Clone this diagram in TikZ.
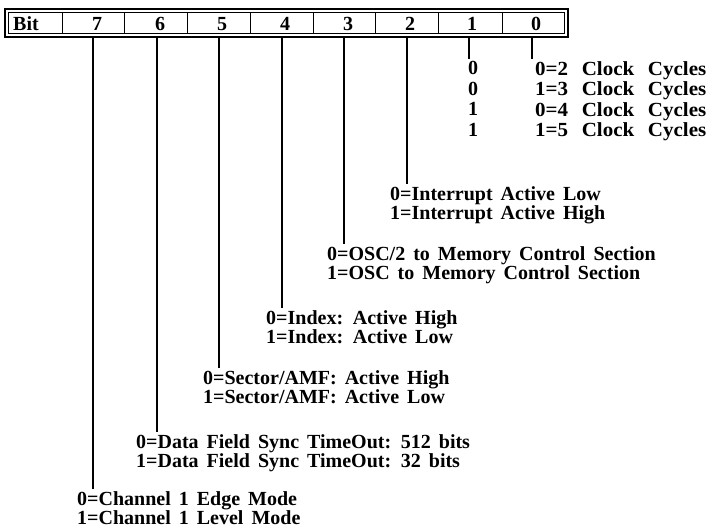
\documentclass[tikz,border=0pt]{standalone}
\usepackage{fontspec}
\setmainfont{Liberation Serif}[WordSpace=1.6]
\newfontfamily\clockfont{Liberation Serif}[WordSpace=2.6,FakeStretch=1.05]
\begin{document}
\lineskiplimit=-30pt
\begin{tikzpicture}[x=1pt,y=-1pt,
  lab/.style={anchor=north west,inner sep=0pt,align=left,font=\fontsize{20}{19.5}\selectfont\bfseries},
  hd/.style={anchor=base,inner sep=0pt,font=\fontsize{20}{18}\selectfont\bfseries},
  lead/.style={line width=1.6pt}]
\useasboundingbox (0,0) rectangle (708,530);
% header box
\draw[line width=1.8pt] (5,9) rectangle (568,37);
\draw[line width=0.8pt] (8.5,12.5) rectangle (564.5,33.5);
\foreach \x in {62,124,187,250,313,375,438,502}
  \draw[line width=1pt] (\x,12.5) -- (\x,33.5);
\node[hd,anchor=base west] (hbit) at (13,30) {Bit};
\node[hd] (h7) at (97,30) {7};
\node[hd] (h6) at (160,30) {6};
\node[hd] (h5) at (222,30) {5};
\node[hd] (h4) at (285,30) {4};
\node[hd] (h3) at (348,30) {3};
\node[hd] (h2) at (410,30) {2};
\node[hd] (h1) at (472,30) {1};
\node[hd] (h0) at (536,30) {0};
% start points of leads
\coordinate (t7) at (93,37);
\coordinate (t6) at (157,37);
\coordinate (t5) at (219,37);
\coordinate (t4) at (282,37);
\coordinate (t3) at (344,37);
\coordinate (t2) at (407,37);
\coordinate (t1) at (469,37);
\coordinate (t0) at (532,37);
% labels
\node[lab,font=\fontsize{20}{20.5}\selectfont\bfseries] (l1) at (468,61) {0\\0\\1\\1};
\node[lab,font=\fontsize{20}{20.5}\selectfont\clockfont\bfseries] (l0) at (535,61) {0=2 Clock Cycles\\1=3 Clock Cycles\\0=4 Clock Cycles\\1=5 Clock Cycles};
\node[lab] (l2) at (390,186) {0=Interrupt Active Low\\1=Interrupt Active High};
\node[lab] (l3) at (327,246) {0=OSC/2 to Memory Control Section\\1=OSC to Memory Control Section};
\node[lab] (l4) at (266,310) {0=Index: Active High\\1=Index: Active Low};
\node[lab] (l5) at (203,370) {0=Sector/AMF: Active High\\1=Sector/AMF: Active Low};
\node[lab] (l6) at (136,434) {0=Data Field Sync TimeOut: 512 bits\\1=Data Field Sync TimeOut: 32 bits};
\node[lab] (l7) at (77,491) {0=Channel 1 Edge Mode\\1=Channel 1 Level Mode};
% leads
\draw[lead] (t7) -- ([yshift=2pt]t7 |- l7.north);
\draw[lead] (t6) -- ([yshift=2pt]t6 |- l6.north);
\draw[lead] (t5) -- ([yshift=2pt]t5 |- l5.north);
\draw[lead] (t4) -- ([yshift=2pt]t4 |- l4.north);
\draw[lead] (t3) -- ([yshift=2pt]t3 |- l3.north);
\draw[lead] (t2) -- ([yshift=2pt]t2 |- l2.north);
\draw[lead] (t1) -- ([yshift=2pt]t1 |- l1.north);
\draw[lead] (t0) -- ([yshift=2pt]t0 |- l0.north);
\end{tikzpicture}
\end{document}
